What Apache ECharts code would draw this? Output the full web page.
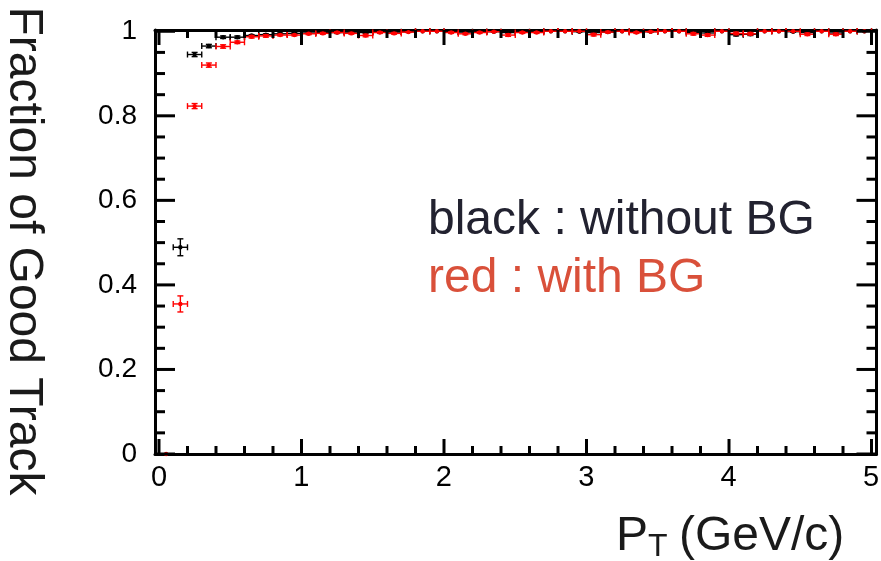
<!DOCTYPE html>
<html>
<head>
<meta charset="utf-8">
<script src="https://cdn.jsdelivr.net/npm/echarts@6/dist/echarts.min.js"></script>
<style>
  html, body { margin: 0; padding: 0; background: #fff; }
  #chart { width: 881px; height: 561px; }
</style>
</head>
<body>
<div id="chart"></div>
<script>
// pT bin centres (GeV/c), bin width 0.1
const binCenters = [
  0.05, 0.15, 0.25, 0.35, 0.45, 0.55, 0.65, 0.75, 0.85, 0.95,
  1.05, 1.15, 1.25, 1.35, 1.45, 1.55, 1.65, 1.75, 1.85, 1.95,
  2.05, 2.15, 2.25, 2.35, 2.45, 2.55, 2.65, 2.75, 2.85, 2.95,
  3.05, 3.15, 3.25, 3.35, 3.45, 3.55, 3.65, 3.75, 3.85, 3.95,
  4.05, 4.15, 4.25, 4.35, 4.45, 4.55, 4.65, 4.75, 4.85, 4.95
];
const binHalfWidth = 0.05;

// fraction of good tracks, without background
const noBgValues = [
  null, 0.489, 0.945, 0.965, 0.986, 0.986, 0.990, 0.992, 0.994, 0.995,
  0.996, 0.997, 0.997, 0.998, 0.997, 0.998, 0.998, 0.999, 1.000, 1.000,
  0.998, 0.998, 0.999, 0.999, 0.997, 0.998, 0.999, 1.000, 1.000, 0.999,
  0.997, 0.998, 1.000, 0.998, 0.999, 1.000, 1.000, 0.997, 0.996, 1.000,
  0.992, 0.993, 1.000, 1.000, 0.999, 0.997, 1.000, 0.996, 1.000, 1.000
];
const noBgErrors = [
  0, 0.020, 0.005, 0.004, 0.003, 0.003, 0.002, 0.002, 0.002, 0.002,
  0.002, 0.002, 0.002, 0.001, 0.002, 0.001, 0.001, 0.001, 0, 0,
  0.001, 0.001, 0.001, 0.001, 0.002, 0.001, 0.001, 0, 0, 0.001,
  0.002, 0.001, 0, 0.001, 0.001, 0, 0, 0.002, 0.002, 0,
  0.003, 0.003, 0, 0, 0.001, 0.002, 0, 0.002, 0, 0
];

// fraction of good tracks, with background
const withBgValues = [
  0.000, 0.355, 0.823, 0.920, 0.964, 0.974, 0.987, 0.989, 0.991, 0.991,
  0.994, 0.995, 0.997, 0.995, 0.990, 0.997, 0.995, 0.998, 1.000, 1.000,
  0.997, 0.994, 0.997, 0.999, 0.991, 0.997, 0.997, 1.000, 1.000, 1.000,
  0.992, 0.998, 1.000, 0.997, 0.999, 1.000, 1.000, 0.994, 0.991, 1.000,
  0.995, 0.994, 1.000, 1.000, 1.000, 0.993, 1.000, 0.993, 1.000, 1.000
];
const withBgErrors = [
  0, 0.019, 0.006, 0.005, 0.004, 0.003, 0.003, 0.003, 0.002, 0.002,
  0.002, 0.002, 0.002, 0.002, 0.003, 0.002, 0.002, 0.001, 0, 0,
  0.002, 0.002, 0.002, 0.001, 0.003, 0.002, 0.002, 0, 0, 0,
  0.003, 0.002, 0, 0.002, 0.001, 0, 0, 0.003, 0.003, 0,
  0.003, 0.003, 0, 0, 0, 0.003, 0, 0.003, 0, 0
];

// axis tick positions
const xMajorTicks = [0, 1, 2, 3, 4, 5];
const xMinorTicks = [0.2, 0.4, 0.6, 0.8, 1.2, 1.4, 1.6, 1.8, 2.2, 2.4, 2.6, 2.8,
                     3.2, 3.4, 3.6, 3.8, 4.2, 4.4, 4.6, 4.8];
const yMajorTicks = [0, 0.2, 0.4, 0.6, 0.8, 1];
const yMinorTicks = [0.05, 0.1, 0.15, 0.25, 0.3, 0.35, 0.45, 0.5, 0.55, 0.65, 0.7, 0.75,
                     0.85, 0.9, 0.95];
const xTickStep = 1, yTickStep = 0.2;

const FONT = '"Liberation Sans", Arial, Helvetica, sans-serif';
// the frame extends slightly beyond the labelled range, ROOT style
const X_MIN = -0.028, X_MAX = 5.035;
const Y_MIN = 0, Y_MAX = 1.003;

function pointsOf(values, errors) {
  const out = [];
  for (let i = 0; i < binCenters.length; i++) {
    if (values[i] === null) continue;
    out.push([binCenters[i], values[i], errors[i]]);
  }
  return out;
}

// error cross with end caps and a small dot marker
function errorCross(color) {
  return function (params, api) {
    const x = api.value(0), y = api.value(1), e = api.value(2);
    const c = api.coord([x, y]);
    const kids = [];
    const st = { stroke: color, lineWidth: 1.4 };
    const cap = 3;
    if (y > 0) {
      const l = api.coord([x - binHalfWidth, y]);
      const r = api.coord([x + binHalfWidth, y]);
      kids.push(
        { type: 'line', shape: { x1: l[0], y1: c[1], x2: r[0], y2: c[1] }, style: st },
        { type: 'line', shape: { x1: l[0], y1: c[1] - cap, x2: l[0], y2: c[1] + cap }, style: st },
        { type: 'line', shape: { x1: r[0], y1: c[1] - cap, x2: r[0], y2: c[1] + cap }, style: st }
      );
    }
    if (e > 0) {
      const t = api.coord([x, y + e]);
      const b = api.coord([x, y - e]);
      kids.push(
        { type: 'line', shape: { x1: c[0], y1: t[1], x2: c[0], y2: b[1] }, style: st },
        { type: 'line', shape: { x1: c[0] - cap, y1: t[1], x2: c[0] + cap, y2: t[1] }, style: st },
        { type: 'line', shape: { x1: c[0] - cap, y1: b[1], x2: c[0] + cap, y2: b[1] }, style: st }
      );
    }
    kids.push({ type: 'circle', shape: { cx: c[0], cy: c[1], r: 2.2 }, style: { fill: color } });
    return { type: 'group', children: kids };
  };
}

// inward tick marks on all four sides of the frame
const TICK_STYLE = { stroke: '#000', lineWidth: 3 };
function xTickMarks(params, api) {
  const v = api.value(0), major = api.value(2) === 1;
  const len = major ? 15 : 8;
  const b = api.coord([v, Y_MIN]), t = api.coord([v, Y_MAX]);
  return { type: 'group', children: [
    { type: 'line', shape: { x1: b[0], y1: b[1], x2: b[0], y2: b[1] - len }, style: TICK_STYLE },
    { type: 'line', shape: { x1: t[0], y1: t[1], x2: t[0], y2: t[1] + len }, style: TICK_STYLE }
  ] };
}
function yTickMarks(params, api) {
  const v = api.value(1), major = api.value(2) === 1;
  const len = major ? 20 : 10;
  const l = api.coord([X_MIN, v]), r = api.coord([X_MAX, v]);
  return { type: 'group', children: [
    { type: 'line', shape: { x1: l[0], y1: l[1], x2: l[0] + len, y2: l[1] }, style: TICK_STYLE },
    { type: 'line', shape: { x1: r[0], y1: r[1], x2: r[0] - len, y2: r[1] }, style: TICK_STYLE }
  ] };
}
const xTickData = xMajorTicks.map(v => [v, Y_MIN, 1]).concat(xMinorTicks.map(v => [v, Y_MIN, 0]));
const yTickData = yMajorTicks.map(v => [X_MIN, v, 1]).concat(yMinorTicks.map(v => [X_MIN, v, 0]));

const hidden = { show: false };
const frameLine = { show: true, onZero: false, lineStyle: { color: '#000', width: 3 } };

// frame axes (lines only), data drawn on these
function frameX(position) {
  return { type: 'value', gridIndex: 0, position, min: X_MIN, max: X_MAX,
           axisLine: frameLine, axisTick: hidden, axisLabel: hidden, splitLine: hidden };
}
function frameY(position) {
  return { type: 'value', gridIndex: 0, position, min: Y_MIN, max: Y_MAX,
           axisLine: frameLine, axisTick: hidden, axisLabel: hidden, splitLine: hidden };
}
// label-only axes aligned with the labelled range
function labelX() {
  return {
    type: 'value', gridIndex: 1, position: 'bottom', min: 0, max: 5, interval: xTickStep,
    axisLine: { show: false, onZero: false }, axisTick: hidden,
    axisLabel: { show: true, fontFamily: FONT, fontSize: 29, color: '#000', margin: 9 },
    splitLine: hidden
  };
}
function labelY() {
  return {
    type: 'value', gridIndex: 2, position: 'left', min: 0, max: 1, interval: yTickStep,
    axisLine: { show: false, onZero: false }, axisTick: hidden,
    axisLabel: { show: true, fontFamily: FONT, fontSize: 28, color: '#000', margin: 18,
                 formatter: v => String(v) },
    splitLine: hidden
  };
}
function silentAxis(grid, min, max) {
  return { type: 'value', gridIndex: grid, min, max, show: false };
}

const chart = echarts.init(document.getElementById('chart'), null, { renderer: 'canvas' });
chart.setOption({
  backgroundColor: '#fff',
  animation: false,
  grid: [
    { left: 155, right: 4.5, top: 30, bottom: 107, containLabel: false, outerBoundsMode: 'none' },
    { left: 159, right: 10, top: 30, bottom: 107, containLabel: false, outerBoundsMode: 'none' },
    { left: 155, right: 4.5, top: 31.3, bottom: 107, containLabel: false, outerBoundsMode: 'none' }
  ],
  xAxis: [frameX('bottom'), frameX('top'), labelX(), silentAxis(2, 0, 1)],
  yAxis: [frameY('left'), frameY('right'), silentAxis(1, 0, 1), labelY()],
  series: [
    {
      name: 'without BG', type: 'custom', xAxisIndex: 0, yAxisIndex: 0, clip: false, z: 3,
      renderItem: errorCross('#000000'),
      data: pointsOf(noBgValues, noBgErrors)
    },
    {
      name: 'with BG', type: 'custom', xAxisIndex: 0, yAxisIndex: 0, clip: false, z: 4,
      renderItem: errorCross('#ff0000'),
      data: pointsOf(withBgValues, withBgErrors)
    },
    {
      name: 'x ticks', type: 'custom', xAxisIndex: 0, yAxisIndex: 0, clip: false, z: 10,
      silent: true, renderItem: xTickMarks, data: xTickData
    },
    {
      name: 'y ticks', type: 'custom', xAxisIndex: 0, yAxisIndex: 0, clip: false, z: 10,
      silent: true, renderItem: yTickMarks, data: yTickData
    }
  ],
  graphic: [
    {
      type: 'text', x: 23, y: 251, rotation: -Math.PI / 2, z: 1,
      style: { text: 'Fraction of Good Track', font: '48px ' + FONT, fill: '#1a1a1a',
               align: 'center', verticalAlign: 'middle' }
    },
    {
      type: 'text', x: 616, y: 537, z: 1,
      style: { text: 'P', font: '48px ' + FONT, fill: '#1a1a1a', align: 'left', verticalAlign: 'middle' }
    },
    {
      type: 'text', x: 648, y: 547, z: 1,
      style: { text: 'T', font: '32px ' + FONT, fill: '#1a1a1a', align: 'left', verticalAlign: 'middle' }
    },
    {
      type: 'text', x: 679, y: 537, z: 1,
      style: { text: '(GeV/c)', font: '48px ' + FONT, fill: '#1a1a1a', align: 'left', verticalAlign: 'middle' }
    },
    {
      type: 'text', x: 428, y: 221, z: 1,
      style: { text: 'black : without BG', font: '48px ' + FONT, fill: '#222230',
               align: 'left', verticalAlign: 'middle' }
    },
    {
      type: 'text', x: 428, y: 279, z: 1,
      style: { text: 'red : with BG', font: '48px ' + FONT, fill: '#d9503a',
               align: 'left', verticalAlign: 'middle' }
    }
  ]
});
</script>
</body>
</html>
